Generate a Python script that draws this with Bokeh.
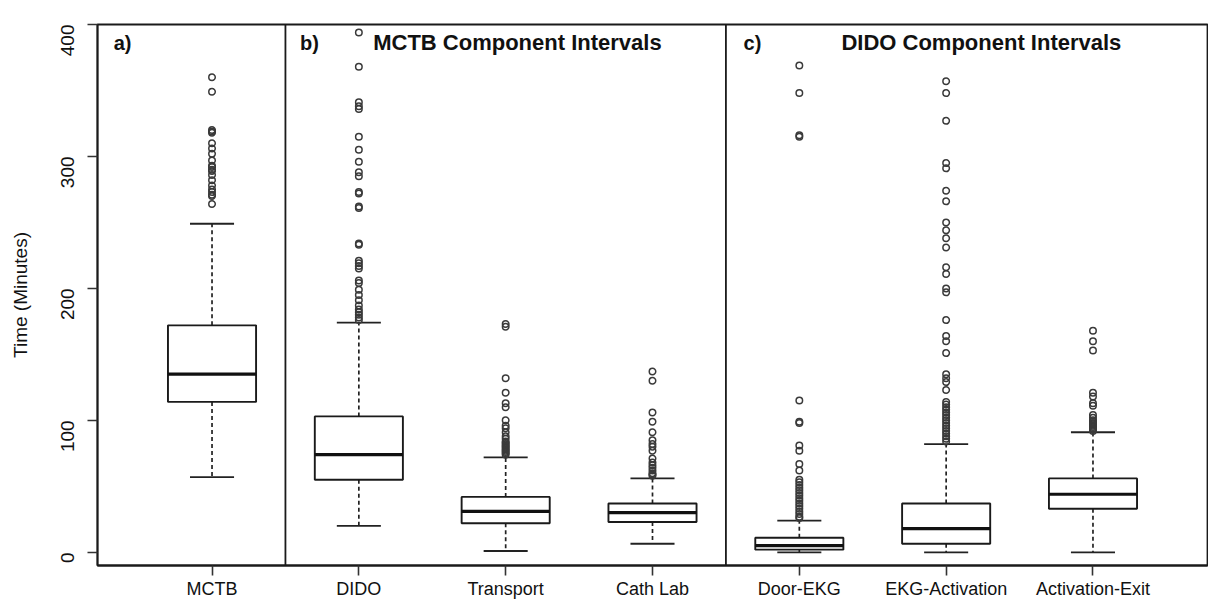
from bokeh.plotting import figure
from bokeh.models import Range1d, FixedTicker, Span, Label
from bokeh.embed import file_html
from bokeh.resources import INLINE
import math

# ---- data ----
labels = ["MCTB", "DIDO", "Transport", "Cath Lab", "Door-EKG", "EKG-Activation", "Activation-Exit"]
positions = [1, 2, 3, 4, 5, 6, 7]
q1 = [114, 55, 22, 23, 2, 6.5, 33]
median = [135, 74, 31, 30, 5, 18, 44]
q3 = [172, 103, 42, 37, 11, 37, 56]
whisk_lo = [57, 20, 1, 6.5, 0, 0, 0]
whisk_hi = [249, 174, 72, 56, 24, 82, 91]

out_mctb = [360, 349, 320, 319, 318, 310, 306, 302, 297, 293, 292, 290, 289, 286, 282, 278, 275, 273, 271, 270, 264]
out_dido = [394, 368, 341, 338, 336, 315, 305, 296, 288, 285, 273, 272, 262, 261, 234, 233, 221, 219, 217, 215,
            206, 204, 199, 195, 191, 187, 184, 182, 180, 178, 176]
out_transport = [173, 171, 132, 121, 113, 110, 100, 96, 94, 91, 88, 86, 84, 83, 82, 81, 80, 79, 78, 77, 76, 75, 74]
out_cathlab = [137, 130, 106, 99, 91, 85, 82, 80, 77, 71, 68, 66, 64, 62, 60, 59, 58]
out_doorekg = [369, 348, 316, 315, 115, 99, 98, 81, 77, 67, 62, 55, 53, 51, 49, 47, 45, 43, 41, 39, 37, 35, 33,
               31, 29, 27, 26]
out_ekgact = [357, 348, 327, 295, 291, 274, 266, 250, 244, 238, 231, 216, 211, 200, 197, 176, 164, 160, 151, 135,
              132, 129, 123, 114, 112, 110, 108, 106, 104, 102, 100, 98, 96, 94, 92, 90, 88, 86, 84]
out_actexit = [168, 160, 153, 121, 118, 113, 111, 104, 102, 100, 99, 98, 97, 96, 95, 94, 93, 92]
outliers = [out_mctb, out_dido, out_transport, out_cathlab, out_doorekg, out_ekgact, out_actexit]

y_ticks = [0, 100, 200, 300, 400]
dividers = [1.5, 4.5]
panel_tags = ["a)", "b)", "c)"]
panel_tag_x = [0.33, 1.6, 4.62]
panel_titles = ["MCTB Component Intervals", "DIDO Component Intervals"]
panel_title_x = [3.08, 6.24]

FONT = "Liberation Sans"
BOX_HALF = 0.3
CAP_HALF = 0.15
INK = "#1a1a1a"

p = figure(width=1208, height=601, output_backend="svg", toolbar_location=None,
           x_range=Range1d(0.22, 7.78), y_range=Range1d(-10, 400),
           min_border_left=97, min_border_right=1, min_border_top=24, min_border_bottom=35)
p.background_fill_color = "white"
p.border_fill_color = "white"
p.xgrid.visible = False
p.ygrid.visible = False
p.outline_line_color = INK
p.outline_line_width = 1.8

# axes
p.yaxis.ticker = FixedTicker(ticks=y_ticks)
p.yaxis.major_label_orientation = math.pi / 2
p.yaxis.axis_label = "Time (Minutes)"
p.yaxis.axis_label_text_font = FONT
p.yaxis.axis_label_text_font_style = "normal"
p.yaxis.axis_label_text_font_size = "19px"
p.yaxis.axis_label_text_color = "#111111"
p.yaxis.axis_label_standoff = 21
p.yaxis.major_label_standoff = 20
p.yaxis.major_label_text_font_size = "19px"
p.xaxis.ticker = FixedTicker(ticks=positions)
p.xaxis.major_label_overrides = {pos: lab for pos, lab in zip(positions, labels)}
p.xaxis.major_label_standoff = 3
p.xaxis.major_label_text_font_size = "18px"
for ax in (p.xaxis, p.yaxis):
    ax.major_label_text_font = FONT
    ax.major_label_text_color = "#111111"
    ax.minor_tick_line_color = None
    ax.major_tick_in = 0
    ax.major_tick_out = 10
    ax.major_tick_line_color = "#333333"
    ax.major_tick_line_width = 1.6
    ax.axis_line_color = INK
    ax.axis_line_width = 1.8

# whiskers (dashed)
p.segment(x0=positions, x1=positions, y0=q3, y1=whisk_hi, line_color="#222222", line_width=1.7, line_dash="4 3")
p.segment(x0=positions, x1=positions, y0=q1, y1=whisk_lo, line_color="#222222", line_width=1.7, line_dash="4 3")
# caps
p.segment(x0=[x - CAP_HALF for x in positions], x1=[x + CAP_HALF for x in positions],
          y0=whisk_hi, y1=whisk_hi, line_color="#222222", line_width=1.8)
p.segment(x0=[x - CAP_HALF for x in positions], x1=[x + CAP_HALF for x in positions],
          y0=whisk_lo, y1=whisk_lo, line_color="#222222", line_width=1.8)
# boxes
p.quad(left=[x - BOX_HALF for x in positions], right=[x + BOX_HALF for x in positions],
       bottom=q1, top=q3, fill_color="white", line_color=INK, line_width=1.9)
# medians
p.segment(x0=[x - BOX_HALF for x in positions], x1=[x + BOX_HALF for x in positions],
          y0=median, y1=median, line_color="#111111", line_width=3.2)

# outliers
ox, oy = [], []
for pos, vals in zip(positions, outliers):
    ox.extend([pos] * len(vals))
    oy.extend(vals)
p.scatter(x=ox, y=oy, size=6.5, marker="circle", fill_color=None, line_color="#3a3a3a", line_width=1.5)

# panel dividers
for d in dividers:
    p.add_layout(Span(location=d, dimension="height", line_color=INK, line_width=1.8))

# panel tags and titles
for tag, tx in zip(panel_tags, panel_tag_x):
    p.add_layout(Label(x=tx, y=386, text=tag, text_font=FONT, text_font_style="bold",
                       text_font_size="20px", text_baseline="middle", text_align="left", text_color="#111111"))
for title, tx in zip(panel_titles, panel_title_x):
    p.add_layout(Label(x=tx, y=386, text=title, text_font=FONT, text_font_style="bold",
                       text_font_size="22px", text_baseline="middle", text_align="center", text_color="#111111"))

open("out.html", "w").write(file_html(p, INLINE))
